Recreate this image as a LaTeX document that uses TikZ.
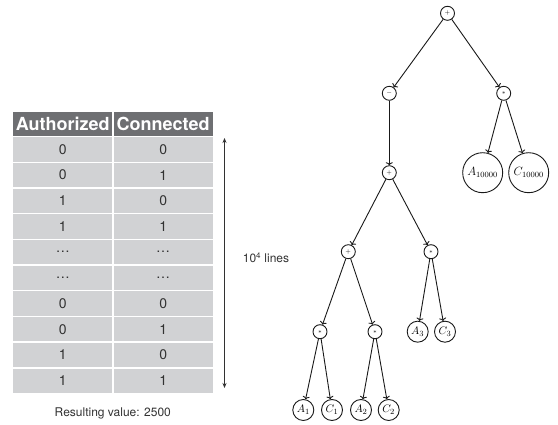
\documentclass[tikz,border=0pt]{standalone}
\usepackage[no-math]{fontspec}
\newfontfamily\tabfont{TeX Gyre Heros}
\usetikzlibrary{arrows.meta,positioning}
\definecolor{tabHead}{RGB}{110,111,114}
\definecolor{tabCell}{RGB}{209,210,212}
\definecolor{tabInk}{RGB}{50,50,50}
\definecolor{treeInk}{RGB}{25,25,25}

\begin{document}
\begin{tikzpicture}[
    x=1pt,y=-1pt,
    headcell/.style={fill=tabHead,text=white,minimum width=99pt,minimum height=24pt,inner sep=0pt,font=\tabfont\bfseries\fontsize{18}{18}\selectfont},
    cell/.style={fill=tabCell,text=tabInk,minimum width=99pt,minimum height=24.3pt,inner sep=0pt,font=\tabfont\fontsize{14}{14}\selectfont},
    note/.style={text=tabInk,inner sep=0pt,font=\tabfont\fontsize{12}{12}\selectfont},
    span/.style={{Stealth[length=5pt,width=4pt]}-{Stealth[length=5pt,width=4pt]},line width=1.1pt,draw=tabInk},
    op/.style={circle,draw=treeInk,line width=0.9pt,minimum size=14pt,inner sep=0pt,font=\fontsize{6}{6}\selectfont},
    leaf/.style={circle,draw=treeInk,line width=0.9pt,minimum size=21pt,inner sep=0pt,font=\fontsize{11}{11}\selectfont},
    bigleaf/.style={leaf,minimum size=40pt,font=\fontsize{12}{12}\selectfont},
    edge/.style={-{To[length=3pt,width=7pt]},line width=0.9pt,draw=treeInk}
  ]
    \useasboundingbox (0,0) rectangle (558,425);
    % truth table
    \node[headcell] (authH) at (62.8,123.7) {Authorized};
    \node[headcell] (connH) at (163.2,123.7) {Connected};
    \foreach \va/\vb [count=\i] in {0/0,0/1,1/0,1/1,\ldots/\ldots,\ldots/\ldots,0/0,0/1,1/0,1/1}{
      \node[cell] (a\i) at (62.8,{123.7+25.7*\i}) {\va};
      \node[cell] (c\i) at (163.2,{123.7+25.7*\i}) {\vb};
    }
    \coordinate (spanTop) at (224.5,138);
    \coordinate (spanBot) at (224.5,388);
    \draw[span] (spanTop) -- (spanBot);
    \node[note] (lines) at (266,258) {10\textsuperscript{4} lines};
    \node[note] (result) at (112.8,413) {Resulting value: 2500};
    % expression tree
    \node[op] (root) at (447.5,13.3) {$+$};
    \node[op] (minus) at (389.3,93.3) {$-$};
    \node[op] (mulTop) at (503.7,93.3) {$*$};
    \node[bigleaf] (aN) at (482.7,172.7) {$A_{10000}$};
    \node[bigleaf] (cN) at (528.7,172.7) {$C_{10000}$};
    \node[op] (plusB) at (389.3,172.7) {$+$};
    \node[op] (plusC) at (348.3,251.7) {$+$};
    \node[op] (mulC) at (431,251.7) {$*$};
    \node[leaf] (aThree) at (417.7,331.7) {$A_3$};
    \node[leaf] (cThree) at (445,331.7) {$C_3$};
    \node[op] (mulL) at (320,331.7) {$*$};
    \node[op] (mulR) at (375,331.7) {$*$};
    \node[leaf] (aOne) at (303.3,410) {$A_1$};
    \node[leaf] (cOne) at (332,410) {$C_1$};
    \node[leaf] (aTwo) at (361,410) {$A_2$};
    \node[leaf] (cTwo) at (388.7,410) {$C_2$};
    \draw[edge] (root) -- (minus);
    \draw[edge] (root) -- (mulTop);
    \draw[edge] (mulTop) -- (aN);
    \draw[edge] (mulTop) -- (cN);
    \draw[edge] (minus) -- (plusB);
    \draw[edge] (plusB) -- (plusC);
    \draw[edge] (plusB) -- (mulC);
    \draw[edge] (mulC) -- (aThree);
    \draw[edge] (mulC) -- (cThree);
    \draw[edge] (plusC) -- (mulL);
    \draw[edge] (plusC) -- (mulR);
    \draw[edge] (mulL) -- (aOne);
    \draw[edge] (mulL) -- (cOne);
    \draw[edge] (mulR) -- (aTwo);
    \draw[edge] (mulR) -- (cTwo);
  \end{tikzpicture}
\end{document}
